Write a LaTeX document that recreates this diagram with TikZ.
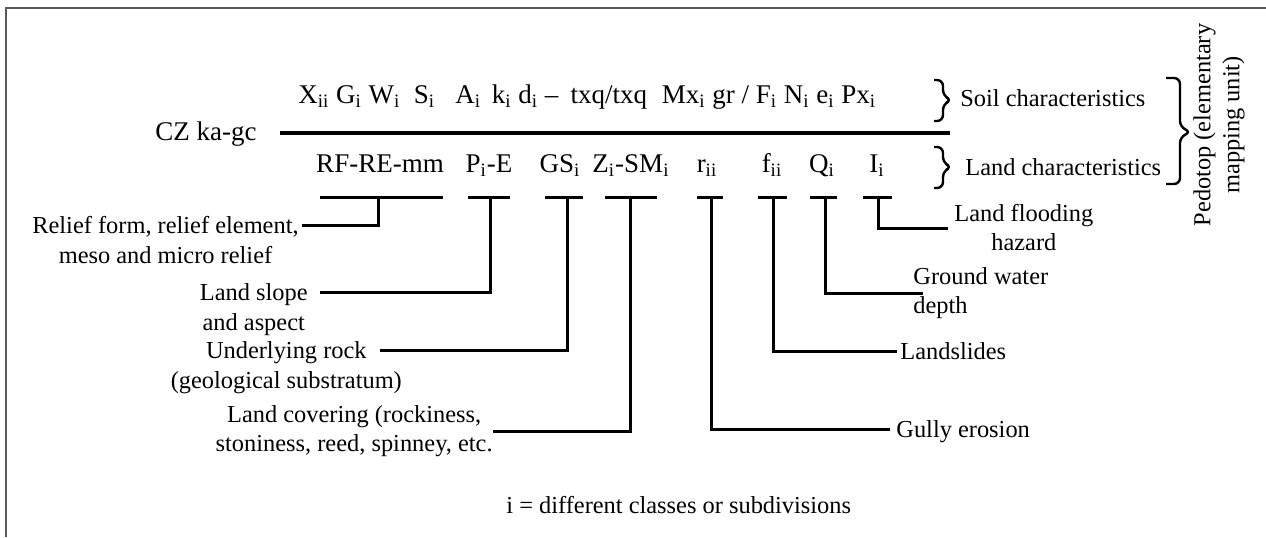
\documentclass[tikz,border=0pt]{standalone}
\usepackage{fontspec}
\setmainfont{Liberation Serif}
\usetikzlibrary{positioning}
\newcommand{\sbi}{\textsubscript{i}}
\newcommand{\sbii}{\textsubscript{ii}}
\begin{document}
\begin{tikzpicture}[x=0.5pt,y=-0.5pt,
  every node/.style={inner sep=0pt},
  sym/.style={font=\fontsize{13.5}{16}\selectfont},
  lbl/.style={font=\fontsize{12.2}{14.5}\selectfont, inner xsep=1.5pt},
  firstln/.style={lbl, text height=8.5pt, text depth=0pt},
  tbar/.style={line width=1.5pt},
  brk/.style={line width=1.2pt, rounded corners=3pt}]
\useasboundingbox (0,0) rectangle (1266,537);
\draw [line width=1pt, black!65] (6,537) -- (6,8) -- (1266,8);
\node [sym, anchor=base west] (cz) at (155,140) {CZ ka-gc};
\node [sym, anchor=base west] (soilrow) at (298,103) {X\sbii{} G\sbi{} W\sbi\ \ S\sbi\ \ \ A\sbi\hspace{0.4em}k\sbi\ d\sbi{} – \hspace{0.2em}txq/txq\hspace{0.3em} Mx\sbi{} gr / F\sbi{} N\sbi{} e\sbi{} Px\sbi};
\draw [line width=2pt] (280,133) -- (950,133);
\node [sym, anchor=base] (rfre) at (380,172) {RF-RE-mm};
\node [sym, anchor=base] (pe) at (489,172) {P\sbi-E};
\node [sym, anchor=base] (gsi) at (560,172) {GS\sbi};
\node [sym, anchor=base] (zsm) at (631,172) {Z\sbi-SM\sbi};
\node [sym, anchor=base] (rii) at (707,172) {r\sbii};
\node [sym, anchor=base] (fii) at (772,172) {f\sbii};
\node [sym, anchor=base] (qi) at (822,172) {Q\sbi};
\node [sym, anchor=base] (ii) at (877,172) {I\sbi};
\draw [brk] (934,80) -- (943,80) -- (943,96) -- (952,100) -- (943,104) -- (943,121) -- (934,121);
\draw [brk] (934,147) -- (943,147) -- (943,163) -- (952,167) -- (943,171) -- (943,188) -- (934,188);
\node [firstln, anchor=west] (soil) at (957,98) {Soil characteristics};
\node [firstln, anchor=west] (land) at (962,167) {Land characteristics};
\draw [brk] (1166,78) -- (1180,78) -- (1180,127) -- (1191,132) -- (1180,137) -- (1180,184) -- (1166,184);
\node [lbl, rotate=90, align=center] (pedotop) at (1219,125) {Pedotop (elementary\\mapping unit)};
\foreach \n/\a/\b/\v in {rf/320/443/378, p/468/510/490, gs/545/583/567, z/605/657/630, r/697/723/711, f/758/787/773, q/810/837/825, fl/863/892/878}
{
  \draw [tbar] (\a,197) -- (\b,197);
  \coordinate (\n) at (\v,197);
}
\node [firstln, anchor=east] (relief) at (302,225) {Relief form, relief element,};
\node [firstln, below=6pt of relief] (relief2) {meso and micro relief};
\node [firstln, anchor=east, inner xsep=6pt] (slope) at (320,292) {Land slope};
\node [firstln, below=6pt of slope] (slope2) {and aspect};
\node [firstln, anchor=east, inner xsep=6.5pt] (rock) at (380,350) {Underlying rock};
\node [firstln, below=6pt of rock] (rock2) {(geological substratum)};
\node [lbl, anchor=east, align=center, inner xsep=0pt] (cover) at (493,431) {Land covering (rockiness,\\stoniness, reed, spinney, etc.};
\node [firstln, anchor=west, inner xsep=3pt] (gully) at (890,429) {Gully erosion};
\node [firstln, anchor=west] (slides) at (897,351) {Landslides};
\node [lbl, anchor=west, align=left, inner xsep=0pt] (ground) at (913,293) {Ground water\\depth};
\node [lbl, anchor=west, align=center, inner xsep=3pt] (flood) at (948,228) {Land flooding\\hazard};
\draw [tbar] (rf) |- (relief.east);
\draw [tbar] (p) |- (slope.east);
\draw [tbar] (gs) |- (rock.east);
\draw [tbar] (z) |- (cover.east);
\draw [tbar] (r) |- (gully.west);
\draw [tbar] (f) |- (slides.west);
\draw [tbar] (q) |- ([xshift=5pt]ground.west);
\draw [tbar] (fl) |- (flood.west);
\node [firstln, anchor=west] (legend) at (503,505) {i = different classes or subdivisions};
\end{tikzpicture}
\end{document}
